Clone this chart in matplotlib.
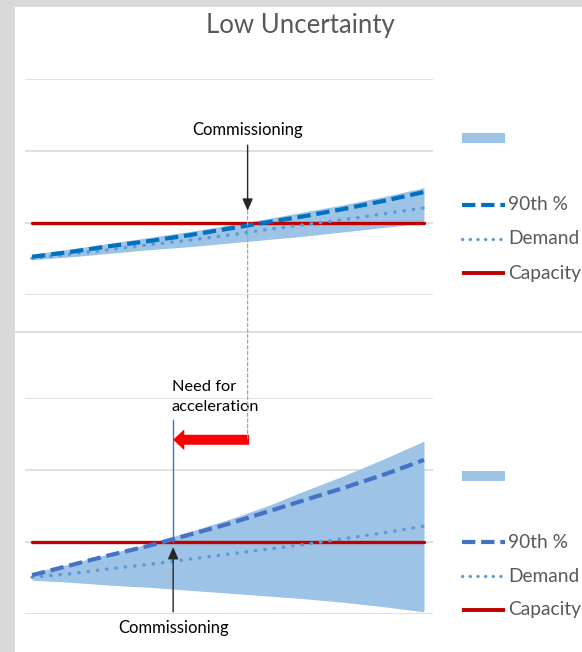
import matplotlib
matplotlib.use("Agg")
import matplotlib.pyplot as plt
from matplotlib.patches import Rectangle, ConnectionPatch
from matplotlib.lines import Line2D
import numpy as np

plt.rcParams['font.family'] = ['Lato', 'DejaVu Sans']

# ---- data -------------------------------------------------------------
periods = list(range(11))

low_p90 = [0.53, 0.60, 0.68, 0.75, 0.83, 0.92, 1.01, 1.10, 1.20, 1.31, 1.43]
low_demand = [0.51, 0.57, 0.63, 0.70, 0.76, 0.83, 0.91, 0.98, 1.05, 1.13, 1.21]
low_band_lo = [0.49, 0.53, 0.58, 0.63, 0.67, 0.72, 0.77, 0.82, 0.88, 0.94, 1.00]
low_band_hi = [0.57, 0.64, 0.72, 0.80, 0.88, 0.97, 1.06, 1.16, 1.26, 1.37, 1.49]

high_p90 = [0.54, 0.68, 0.82, 0.95, 1.10, 1.25, 1.42, 1.59, 1.76, 1.94, 2.14]
high_demand = [0.51, 0.56, 0.63, 0.69, 0.76, 0.83, 0.90, 0.97, 1.05, 1.13, 1.22]
high_band_lo = [0.47, 0.44, 0.40, 0.37, 0.33, 0.29, 0.25, 0.21, 0.16, 0.10, 0.03]
high_band_hi = [0.57, 0.70, 0.84, 0.98, 1.14, 1.31, 1.50, 1.72, 1.93, 2.16, 2.40]

capacity = [1.0] * 11

commission_low = 5.5    # commissioning date, low-uncertainty case
commission_high = 3.6   # required commissioning date, high-uncertainty case

legend_labels = ["90th %", "Demand", "Capacity"]

# ---- styles -----------------------------------------------------------
BAND = '#9dc3e6'
RED = '#c00000'
DEMAND = '#5b9bd5'
TEXT = '#595959'
GRID = '#d9d9d9'
P90_STYLE = (0, (3.2, 1.4))
DOT_STYLE = (0, (0.1, 2.6))

W, H = 582, 652
fig = plt.figure(figsize=(W / 100, H / 100), dpi=100, facecolor='#d9d9d9')

# white chart area and separator between the two panels
fig.patches.append(Rectangle((15 / W, 0), (W - 15) / W, (H - 7) / H,
                             transform=fig.transFigure, facecolor='white',
                             edgecolor='none', zorder=-5))
fig.add_artist(Line2D([15 / W, 1], [1 - 332 / H, 1 - 332 / H],
                      transform=fig.transFigure, color=GRID, lw=1.2, zorder=-4))

fig.text(300 / W, 1 - 25 / H, "Low Uncertainty", ha='center', va='center',
         fontsize=18.5, color=TEXT)


def make_axes(top_px):
    ax = fig.add_axes([25 / W, 1 - (top_px + 216) / H, 408 / W, 216 / H], zorder=2)
    ax.set_xlim(-0.18, 10.23)
    ax.set_ylim(0, 3)
    ax.set_yticks([0, 1, 2, 3])
    ax.set_xticks([])
    ax.grid(axis='y', color=GRID, lw=1.1)
    ax.tick_params(left=False, labelleft=False)
    for s in ax.spines.values():
        s.set_visible(False)
    ax.patch.set_alpha(0)
    ax.set_axisbelow(True)
    return ax


def draw_panel(ax, p90, demand, lo, hi, p90_color):
    ax.fill_between(periods, lo, hi, color=BAND, lw=0, zorder=2)
    ax.plot(periods, capacity, color=RED, lw=2.4, solid_capstyle='round', zorder=3)
    ax.plot(periods, demand, color=DEMAND, lw=2.5, linestyle=DOT_STYLE,
            dash_capstyle='round', zorder=4)
    ax.plot(periods, p90, color=p90_color, lw=3.0, linestyle=P90_STYLE,
            zorder=5)


ax_low = make_axes(79)
ax_high = make_axes(398)

draw_panel(ax_low, low_p90, low_demand, low_band_lo, low_band_hi, '#0070c0')
draw_panel(ax_high, high_p90, high_demand, high_band_lo, high_band_hi, '#4472c4')

arrow_black = dict(arrowstyle='-|>,head_length=0.8,head_width=0.35',
                   color='#262626', lw=1, shrinkA=0, shrinkB=0, mutation_scale=9)

# low uncertainty: commissioning marker
ax_low.annotate('', xy=(commission_low, 1.17), xytext=(commission_low, 2.08),
                arrowprops=arrow_black, zorder=6)
ax_low.text(commission_low, 2.29, "Commissioning", ha='center', va='center',
            fontsize=12, color='black')

# high uncertainty: required commissioning marker
ax_high.plot([commission_high, commission_high], [1.0, 2.69], color='#4472c4',
             lw=1, zorder=6)
ax_high.annotate('', xy=(commission_high, 0.93), xytext=(commission_high, 0.03),
                 arrowprops=arrow_black, zorder=6)
ax_high.text(commission_high, -0.19, "Commissioning", ha='center', va='center',
             fontsize=12, color='black')
ax_high.text(commission_high - 0.03, 3.02, "Need for\nacceleration", ha='left',
             va='center', fontsize=11.8, color='black', linespacing=1.55)

# projection of the original date down to the high-uncertainty panel
con = ConnectionPatch(xyA=(commission_low, 1.17), coordsA=ax_low.transData,
                      xyB=(commission_low, 2.42), coordsB=ax_high.transData,
                      color='#7aaee0', lw=0.9, linestyle=(0, (2.5, 2)), zorder=5)
fig.add_artist(con)

# acceleration arrow
ax_high.annotate('', xy=(commission_high, 2.42), xytext=(commission_low + 0.04, 2.42),
                 arrowprops=dict(arrowstyle='simple,head_length=0.8,head_width=1.5,tail_width=0.72',
                                 color='#ff0000', lw=0, shrinkA=0, shrinkB=0,
                                 mutation_scale=10),
                 zorder=7)

# ---- legends (drawn in figure pixel coordinates) ----------------------
lg = fig.add_axes([0, 0, 1, 1], zorder=10)
lg.set_xlim(0, W)
lg.set_ylim(H, 0)
lg.axis('off')
lg.patch.set_alpha(0)


def draw_legend(patch_y, line_ys, p90_color):
    lg.add_patch(Rectangle((462, patch_y - 5), 43, 10, facecolor=BAND,
                           edgecolor='none'))
    styles = [
        dict(color=p90_color, lw=3.0, linestyle=P90_STYLE),
        dict(color=DEMAND, lw=2.3, linestyle=(0, (0.1, 2.3)), dash_capstyle='round'),
        dict(color=RED, lw=2.8, solid_capstyle='butt'),
    ]
    for y, label, st in zip(line_ys, legend_labels, styles):
        lg.plot([462, 505], [y, y], **st)
        lg.text(508, y, label, ha='left', va='center', fontsize=13.8, color=TEXT)


draw_legend(138, [205, 239, 273], '#0070c0')
draw_legend(476, [542, 576, 610], '#4472c4')

fig.savefig("out.png", dpi=100, facecolor=fig.get_facecolor())
